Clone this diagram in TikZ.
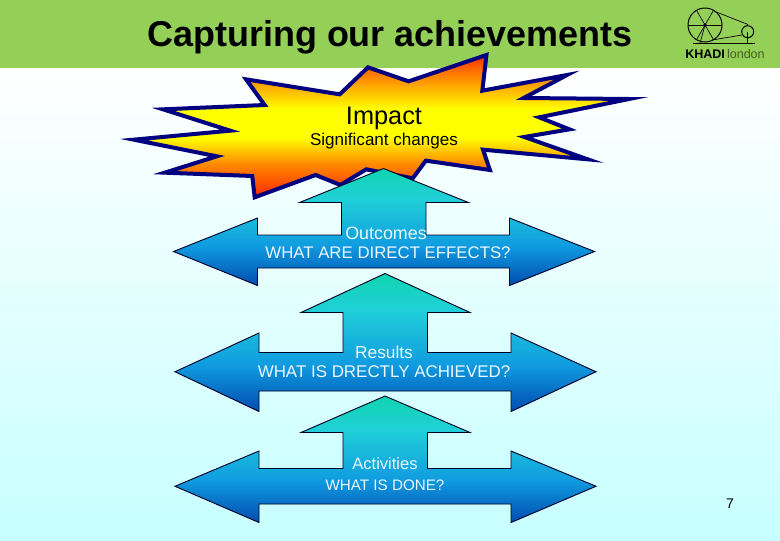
\documentclass[tikz,border=0pt]{standalone}
\usepackage{fontspec}
\setmainfont{Liberation Sans}
\definecolor{bandgreen}{RGB}{148,207,88}
\definecolor{starnavy}{RGB}{0,0,128}
\definecolor{aTip}{RGB}{16,212,176}
\definecolor{aHead}{RGB}{32,208,216}
\definecolor{aMid}{RGB}{16,156,224}
\definecolor{aBot}{RGB}{0,76,176}
\pgfdeclareverticalshading{arrowfill}{100bp}{
  color(0bp)=(aBot); color(25bp)=(aBot); color(42bp)=(aMid); color(62bp)=(aHead); color(75bp)=(aTip); color(100bp)=(aTip)}
\pgfdeclareverticalshading{starfill}{100bp}{
  color(0bp)=(red!70!orange); color(25bp)=(red!70!orange); color(37bp)=(orange!90!yellow); color(46bp)=(yellow); color(56bp)=(yellow); color(68bp)=(orange); color(75bp)=(red!65!orange); color(100bp)=(red!65!orange)}
\newcommand{\upDouble}[7]{%
  \path[arrowshape,xshift=#7*0.75pt] (385,#1) -- (470,#2) -- (427.5,#2) -- (427.5,#4) -- (511,#4) -- (511,#3) -- (596,{(#4+#5)/2}) -- (511,#6) -- (511,#5) -- (259,#5) -- (259,#6) -- (175,{(#4+#5)/2}) -- (259,#3) -- (259,#4) -- (343,#4) -- (343,#2) -- (301,#2) -- cycle;}
\tikzset{
  arrowshape/.style={shading=arrowfill,draw=black!85!blue,line width=0.7pt,line join=miter},
  armtext/.style={text=white!92!cyan,align=center,inner sep=0pt},
  logoline/.style={draw=black,line width=0.75pt}
}
\begin{document}
\begin{tikzpicture}[x=0.75pt,y=-0.75pt]
\useasboundingbox (0,0) rectangle (780,540);
\path[top color=white,bottom color=cyan!22!white] (0,68) rectangle (780,540);
\path[fill=bandgreen] (0,0) rectangle (780,68);
\node[font=\fontsize{26.95}{30}\bfseries\selectfont,inner sep=0pt] (title) at (390,37) {Capturing our achievements};
% logo
\draw[logoline] (705,25) circle (17);
\foreach \a in {0,60,...,300} {\draw[logoline,line width=0.5pt] (705,25) -- ++(\a:17);}
\fill (705,25) circle (1.8);
\draw[logoline] (747.7,31.7) circle (6);
\draw[logoline,line width=0.5pt] (715,11.5) -- (748,24.5);
\draw[logoline,line width=0.5pt] (712,40) -- (742,35);
\draw[logoline,line width=0.5pt] (705,25) -- (700,43);
\draw[logoline,line width=0.5pt] (747.7,32) -- (747.7,43);
\draw[draw=black,line width=1.3pt] (693,43.5) -- (755,43.5);
\node[anchor=west,inner sep=0pt,font=\fontsize{9.4}{10}\selectfont] (logo) at (685,54) {\textbf{KHADI}\,\textcolor{black!55!bandgreen}{london}};
% star
\begin{scope}[shift={(120,50)},xscale=0.3444,yscale=0.3333]
\path[shading=starfill,draw=starnavy,line width=3pt,line join=miter,miter limit=25]
 (40,269) -- (320,242) -- (125,178) -- (420,165) -- (366,88) -- (638,133) -- (720,52) -- (838,94) -- (1064,15) -- (1052,122) -- (1298,75) -- (1172,144) -- (1478,147) -- (1217,202) -- (1305,238) -- (1174,261) -- (1358,328) -- (1054,299) -- (1074,360) -- (888,332) -- (850,385) -- (715,358) -- (640,405) -- (568,375) -- (391,442) -- (384,378) -- (130,368) -- (281,319) -- cycle;
\end{scope}
\node[font=\fontsize{19}{20}\selectfont,inner sep=0pt] (impact) at (384,118) {Impact};
\node[font=\fontsize{12.8}{14}\selectfont,inner sep=0pt] (changes) at (384,141) {Significant changes};
% arrows
\upDouble{168.5}{202.5}{218}{235}{268}{285.5}{-1.5}
\upDouble{273.5}{312.5}{333}{352.5}{391}{411.5}{0}
\upDouble{396}{432.5}{451}{468.5}{504}{522.5}{0}
\node[armtext,font=\fontsize{13.4}{15}\selectfont] (t1) at (386,233) {Outcomes};
\node[armtext,font=\fontsize{12.6}{15}\selectfont] (t1b) at (388,253) {WHAT ARE DIRECT EFFECTS?};
\node[armtext,font=\fontsize{13}{15}\selectfont] (t2) at (384,352) {Results};
\node[armtext,font=\fontsize{12.7}{15}\selectfont] (t2b) at (384,372) {WHAT IS DRECTLY ACHIEVED?};
\node[armtext,font=\fontsize{12.4}{13}\selectfont] (t3) at (385,464) {Activities};
\node[armtext,font=\fontsize{11.4}{13}\selectfont] (t3b) at (385,485) {WHAT IS DONE?};
\node[font=\fontsize{10.5}{12}\selectfont,inner sep=0pt] (pg) at (730,504) {7};
\end{tikzpicture}
\end{document}
